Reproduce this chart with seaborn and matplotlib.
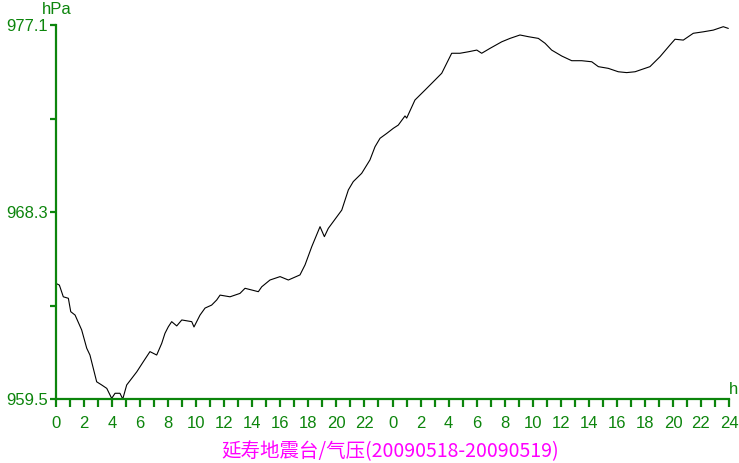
import numpy as np
import pandas as pd
import matplotlib
matplotlib.use("Agg")
import matplotlib.pyplot as plt
import seaborn as sns

# heures écoulées depuis 2009-05-18 00:00 et pression (hPa)
heures = [0.0, 0.24, 0.52, 0.88, 1.05, 1.36, 1.83, 2.19, 2.42, 2.90, 3.26, 3.62,
          3.97, 4.21, 4.56, 4.76, 5.04, 5.40, 5.76, 6.23, 6.70, 7.18, 7.54, 7.77,
          8.01, 8.25, 8.61, 8.97, 9.68, 9.84, 10.27, 10.63, 11.10, 11.46, 11.70,
          12.41, 13.12, 13.48, 13.96, 14.43, 14.67, 15.26, 15.98, 16.57, 17.40,
          17.76, 18.24, 18.83, 19.14, 19.42, 20.38, 20.85, 21.20, 21.80, 22.39,
          22.75, 23.11, 23.59, 24.06, 24.41, 24.89, 25.01, 25.60, 26.32, 27.03,
          27.51, 28.22, 28.81, 29.41, 30.01, 30.36, 30.95, 31.79, 32.38, 33.09,
          33.69, 34.40, 34.88, 35.35, 36.07, 36.78, 37.49, 38.21, 38.68, 39.39,
          40.10, 40.70, 41.30, 41.65, 42.36, 43.08, 43.79, 44.15, 44.74, 45.45,
          46.17, 46.88, 47.59, 47.95]
pression = [964.94, 964.86, 964.31, 964.24, 963.61, 963.45, 962.75, 961.89, 961.57,
            960.31, 960.16, 960.00, 959.53, 959.77, 959.77, 959.50, 960.16, 960.47,
            960.78, 961.26, 961.73, 961.57, 962.12, 962.59, 962.90, 963.14, 962.94,
            963.22, 963.14, 962.89, 963.45, 963.78, 963.92, 964.16, 964.39, 964.31,
            964.47, 964.71, 964.63, 964.55, 964.78, 965.10, 965.26, 965.10, 965.34,
            965.81, 966.67, 967.61, 967.14, 967.53, 968.39, 969.34, 969.73, 970.12,
            970.75, 971.37, 971.77, 972.00, 972.24, 972.39, 972.82, 972.72, 973.57,
            974.04, 974.51, 974.83, 975.77, 975.77, 975.84, 975.92, 975.77, 976.00,
            976.31, 976.47, 976.63, 976.55, 976.47, 976.24, 975.92, 975.64, 975.42,
            975.42, 975.37, 975.14, 975.06, 974.90, 974.86, 974.90, 974.98, 975.14,
            975.61, 976.16, 976.43, 976.39, 976.71, 976.78, 976.86, 977.02, 976.94]

y_ticks = [959.5, 968.3, 977.1]
y_minor = [963.9, 972.7]
x_labels = [str(h) for h in range(0, 24, 2)] + [str(h) for h in range(0, 25, 2)]
titre = "延寿地震台/气压(20090518-20090519)"

vert = "#0c850c"
magenta = "#ff00ff"

sns.set_style("white")
plt.rcParams['font.family'] = ['Liberation Sans', 'DejaVu Sans']

df = pd.DataFrame({"heure": heures, "pression": pression})

fig = plt.figure(figsize=(7.39, 4.63), dpi=100)
ax = fig.add_axes([0.0758, 0.1382, 0.9107, 0.8078])
sns.lineplot(data=df, x="heure", y="pression", ax=ax, color="black", linewidth=0.8)

ax.set_xlim(0, 48)
ax.set_ylim(959.5, 977.1)
ax.set_xlabel("")
ax.set_ylabel("")

for s in ["top", "right"]:
    ax.spines[s].set_visible(False)
for s in ["left", "bottom"]:
    ax.spines[s].set_color(vert)
    ax.spines[s].set_linewidth(1.6)

ax.set_xticks(np.arange(0, 49, 2))
ax.set_xticklabels(x_labels)
ax.set_xticks(np.arange(1, 48, 2), minor=True)
ax.set_yticks(y_ticks)
ax.set_yticklabels([f"{v:.1f}" for v in y_ticks])
ax.set_yticks(y_minor, minor=True)

ax.tick_params(axis="both", which="both", direction="out", color=vert, width=1.6,
               labelcolor=vert, labelsize=12, bottom=True, left=True)
ax.tick_params(axis="x", which="both", length=5.5, pad=7)
ax.tick_params(axis="y", which="both", length=4, pad=2)

fig.text(0.077, 0.995, "hPa", color=vert, fontsize=12, ha="center", va="top")
fig.text(0.993, 0.158, "h", color=vert, fontsize=12, ha="center", va="center")
fig.text(0.528, 0.024, titre, color=magenta, fontsize=14, ha="center", va="center",
         family=['Noto Sans CJK SC', 'DejaVu Sans'])

fig.savefig("out.png", dpi=100)
